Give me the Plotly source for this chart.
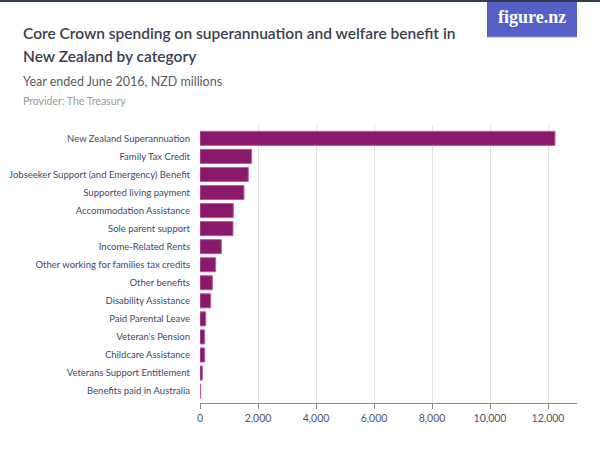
import plotly.graph_objects as go

categories = [
    "New Zealand Superannuation",
    "Family Tax Credit",
    "Jobseeker Support (and Emergency) Benefit",
    "Supported living payment",
    "Accommodation Assistance",
    "Sole parent support",
    "Income-Related Rents",
    "Other working for families tax credits",
    "Other benefits",
    "Disability Assistance",
    "Paid Parental Leave",
    "Veteran's Pension",
    "Childcare Assistance",
    "Veterans Support Entitlement",
    "Benefits paid in Australia",
]
values = [12240, 1780, 1665, 1516, 1148, 1137, 735, 540, 425, 367, 195, 161, 163, 80, 25]
tick_vals = [0, 2000, 4000, 6000, 8000, 10000, 12000]
tick_text = ["0", "2,000", "4,000", "6,000", "8,000", "10,000", "12,000"]

title_lines = ["Core Crown spending on superannuation and welfare benefit in",
               "New Zealand by category"]
subtitle = "Year ended June 2016, NZD millions"
provider = "Provider: The Treasury"

W, H = 600, 451
L, R, T, B = 200, 23, 125, 48
pw, ph = W - L - R, H - T - B

def px(x):
    return (x - L) / pw

def py(y):
    return (H - B - y) / ph

FONT = "Lato, Roboto, sans-serif"

fig = go.Figure(go.Bar(
    x=values, y=categories, orientation="h",
    marker=dict(color="#8a186b", line=dict(color="#b062a0", width=1)),
    hoverinfo="x+y",
))

annotations = [
    dict(text=title_lines[0], x=px(21), y=py(33), xanchor="left", yanchor="middle",
         font=dict(size=15.5, color="#3b4050", family=FONT, weight=600)),
    dict(text=title_lines[1], x=px(21), y=py(55.5), xanchor="left", yanchor="middle",
         font=dict(size=15.5, color="#3b4050", family=FONT, weight=600)),
    dict(text=subtitle, x=px(21), y=py(81), xanchor="left", yanchor="middle",
         font=dict(size=12.5, color="#585c66", family=FONT)),
    dict(text=provider, x=px(21), y=py(101), xanchor="left", yanchor="middle",
         font=dict(size=10.5, color="#9a9a9a", family=FONT)),
    dict(text="<b>figure.nz</b>", x=px(532), y=py(17), xanchor="center", yanchor="middle",
         font=dict(size=18, color="white", family="Liberation Serif, serif")),
]
for a in annotations:
    a.update(xref="paper", yref="paper", showarrow=False)

shapes = [
    dict(type="rect", xref="paper", yref="paper", x0=px(487), x1=px(577), y0=py(37), y1=py(0),
         fillcolor="#5560c6", line=dict(width=0), layer="below"),
    dict(type="line", xref="paper", yref="paper", x0=px(487), x1=px(577), y0=py(37), y1=py(37),
         line=dict(color="#8c95dc", width=1)),
    dict(type="rect", xref="paper", yref="paper", x0=px(0), x1=px(600), y0=py(2), y1=py(-2),
         fillcolor="#2e3d52", line=dict(width=0), layer="above"),
]

fig.update_layout(
    width=W, height=H,
    margin=dict(l=L, r=R, t=T, b=B, pad=0, autoexpand=False),
    paper_bgcolor="white", plot_bgcolor="white",
    showlegend=False,
    bargap=0.22,
    font=dict(family=FONT, color="#3c4a6a", size=11),
    annotations=annotations,
    shapes=shapes,
    xaxis=dict(
        range=[0, 13000], tickvals=tick_vals, ticktext=tick_text,
        showgrid=True, gridcolor="#e2e2e2", gridwidth=1,
        zeroline=False, showline=True, linecolor="#8a8a8a", linewidth=1,
        ticks="outside", ticklen=5, tickcolor="#8a8a8a",
        tickfont=dict(size=10.5, color="#4d5670", family=FONT),
        fixedrange=True, automargin=False,
    ),
    yaxis=dict(
        range=[14.66, -0.74], showgrid=False, zeroline=False,
        ticks="", ticklabelstandoff=9,
        tickfont=dict(size=9.5, color="#3c4a6a", family=FONT),
        fixedrange=True, automargin=False,
    ),
)

fig.write_html("out.html", config={"displayModeBar": False},
               post_script="document.body.style.margin='0';document.body.style.overflow='hidden';")
